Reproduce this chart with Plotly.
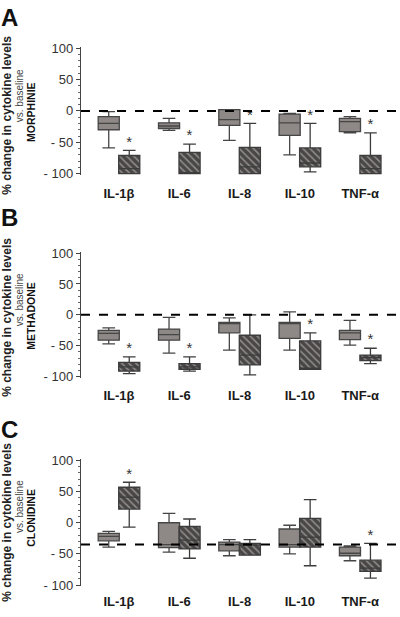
import plotly.graph_objects as go

# ---------------- data ----------------
cytokines = ["IL-1β", "IL-6", "IL-8", "IL-10", "TNF-α"]
drugs = ["MORPHINIE", "METHADONE", "CLONIDINE"]
panel_letters = ["A", "B", "C"]
dashed_ref = [0, 0, -35]

# Panel A (morphine) - grey boxes
A_grey_lo = [-59, -31, -47, -70, -35]
A_grey_q1 = [-30, -28, -23, -39, -33]
A_grey_med = [-20, -24, -14, -19, -17]
A_grey_q3 = [-9, -19, 2, -5, -12]
A_grey_hi = [-1, -12, 2, -4, -9]
# Panel A - hatched boxes
A_hatch_lo = [-100, -100, -100, -97, -100]
A_hatch_q1 = [-100, -100, -100, -89, -100]
A_hatch_med = [-92, -100, -89, -83, -92]
A_hatch_q3 = [-71, -66, -58, -59, -71]
A_hatch_hi = [-63, -53, -20, -20, -35]
A_star = [1, 1, 1, 1, 1]

# Panel B (methadone)
B_grey_lo = [-47, -62, -57, -57, -49]
B_grey_q1 = [-41, -41, -29, -38, -40]
B_grey_med = [-30, -32, -14, -14, -29]
B_grey_q3 = [-25, -23, -12, -12, -25]
B_grey_hi = [-21, -4, -5, 5, -9]
B_hatch_lo = [-95, -91, -97, -88, -79]
B_hatch_q1 = [-91, -88, -81, -88, -74]
B_hatch_med = [-84, -84, -65, -88, -69]
B_hatch_q3 = [-77, -79, -33, -42, -65]
B_hatch_hi = [-68, -68, 0, -29, -54]
B_star = [1, 1, 0, 1, 1]

# Panel C (clonidine)
C_grey_lo = [-39, -47, -53, -50, -61]
C_grey_q1 = [-29, -40, -45, -39, -53]
C_grey_med = [-22, -35, -35, -35, -49]
C_grey_q3 = [-17, 0, -31, -10, -39]
C_grey_hi = [-14, 15, -27, -4, -37]
C_hatch_lo = [-7, -57, -52, -69, -89]
C_hatch_q1 = [22, -42, -52, -39, -78]
C_hatch_med = [41, -28, -36, -23, -73]
C_hatch_q3 = [57, -6, -33, 7, -60]
C_hatch_hi = [65, 6, -27, 37, -33]
C_star = [1, 0, 0, 0, 1]

y_tickvals = [-100, -50, 0, 50, 100]
y_ticktext = ["- 100", "- 50", "0", "50", "100"]

# ---------------- layout helpers ----------------
W, H = 400, 617
FONT = "Liberation Sans, Arial, sans-serif"
def py(p):
    return 1 - p / H

panels = [
    dict(grey=(A_grey_lo, A_grey_q1, A_grey_med, A_grey_q3, A_grey_hi),
         hatch=(A_hatch_lo, A_hatch_q1, A_hatch_med, A_hatch_q3, A_hatch_hi),
         star=A_star, top=41.7, bot=172.3, tlen=6),
    dict(grey=(B_grey_lo, B_grey_q1, B_grey_med, B_grey_q3, B_grey_hi),
         hatch=(B_hatch_lo, B_hatch_q1, B_hatch_med, B_hatch_q3, B_hatch_hi),
         star=B_star, top=250.7, bot=379.3, tlen=5),
    dict(grey=(C_grey_lo, C_grey_q1, C_grey_med, C_grey_q3, C_grey_hi),
         hatch=(C_hatch_lo, C_hatch_q1, C_hatch_med, C_hatch_q3, C_hatch_hi),
         star=C_star, top=462.2, bot=591.8, tlen=3),
]
# y-title line centres (px) per panel
title_y = [(112, 92, 108), (318, 300, 316), (527, 511, 522)]
letter_y = [12, 216, 432]

OFF = 0.17
BW = 0.35
GREY = "#8e8886"
HATCH_BG = "#4a4646"

fig = go.Figure()
layout = dict(width=W, height=H, margin=dict(l=0, r=0, t=0, b=0),
              paper_bgcolor="white", plot_bgcolor="white",
              showlegend=False, barmode="overlay", boxmode="overlay",
              font=dict(family=FONT, color="#222"))
shapes, annotations = [], []

for k, p in enumerate(panels):
    sfx = "" if k == 0 else str(k + 1)
    xa, ya = "x" + sfx, "y" + sfx
    xs = list(range(len(cytokines)))
    xg = [i - OFF for i in xs]
    xh = [i + OFF for i in xs]
    glo, gq1, gmed, gq3, ghi = p["grey"]
    hlo, hq1, hmed, hq3, hhi = p["hatch"]

    # hatched body (bar with pattern)
    fig.add_trace(go.Bar(
        x=xh, base=hq1, y=[b - a for a, b in zip(hq1, hq3)], width=BW,
        marker=dict(color=HATCH_BG, line=dict(width=0),
                    pattern=dict(shape="\\", fgcolor="#d4d4d4", bgcolor=HATCH_BG,
                                 size=5, solidity=0.3)),
        xaxis=xa, yaxis=ya, hoverinfo="skip"))
    # grey box
    fig.add_trace(go.Box(
        x=xg, q1=gq1, median=gmed, q3=gq3, lowerfence=glo, upperfence=ghi,
        width=BW, fillcolor=GREY, line=dict(color="#464646", width=1.3),
        whiskerwidth=0.6, boxpoints=False, xaxis=xa, yaxis=ya))
    # hatched box outline / whiskers
    fig.add_trace(go.Box(
        x=xh, q1=hq1, median=hmed, q3=hq3, lowerfence=hlo, upperfence=hhi,
        width=BW, fillcolor="rgba(0,0,0,0)", line=dict(color="#3c3c3c", width=1.3),
        whiskerwidth=0.6, boxpoints=False, xaxis=xa, yaxis=ya))
    # significance stars
    sx = [x for x, s in zip(xh, p["star"]) if s]
    sy = [y for y, s in zip(hhi, p["star"]) if s]
    fig.add_trace(go.Scatter(
        x=sx, y=sy, mode="text", text=["*"] * len(sx), textposition="top center",
        textfont=dict(size=15, color="#333", family=FONT),
        xaxis=xa, yaxis=ya, hoverinfo="skip"))

    layout["xaxis" + sfx] = dict(
        domain=[81 / W, 1], range=[-0.63, 4.66], anchor=ya,
        tickvals=xs, ticktext=cytokines, showline=False, showgrid=False,
        zeroline=False, ticks="outside", ticklen=p["tlen"], tickcolor="rgba(0,0,0,0)",
        tickfont=dict(size=13, family=FONT, color="#1a1a1a", weight="bold"),
        fixedrange=True)
    layout["yaxis" + sfx] = dict(
        domain=[py(p["bot"]), py(p["top"])], range=[-102, 102], anchor=xa,
        tickvals=y_tickvals, ticktext=y_ticktext, showline=True,
        linecolor="#444", linewidth=1.3, ticks="outside", ticklen=4,
        tickcolor="#444", tickwidth=1, showgrid=False, zeroline=False,
        minor=dict(dtick=10, ticks="outside", ticklen=2, tickcolor="#666"),
        tickfont=dict(size=13, family=FONT, color="#333"), fixedrange=True)

    shapes.append(dict(type="line", xref=xa + " domain", x0=0, x1=1,
                       yref=ya, y0=dashed_ref[k], y1=dashed_ref[k],
                       line=dict(color="black", width=2, dash="dash"), layer="above"))

    ty = title_y[k]
    annotations += [
        dict(text="% change in cytokine levels", x=7 / W, y=py(ty[0]), xref="paper", yref="paper",
             textangle=-90, showarrow=False, xanchor="center", yanchor="middle",
             font=dict(size=12, family=FONT, color="#222", weight="bold")),
        dict(text="vs. baseline", x=19 / W, y=py(ty[1]), xref="paper", yref="paper",
             textangle=-90, showarrow=False, xanchor="center", yanchor="middle",
             font=dict(size=10, family=FONT, color="#444")),
        dict(text=drugs[k], x=31 / W, y=py(ty[2]), xref="paper", yref="paper",
             textangle=-90, showarrow=False, xanchor="center", yanchor="middle",
             font=dict(size=10.5, family=FONT, color="#111", weight="bold")),
        dict(text=panel_letters[k], x=9 / W, y=py(letter_y[k]), xref="paper", yref="paper",
             showarrow=False, xanchor="center", yanchor="middle",
             font=dict(size=24, family=FONT, color="#111", weight="bold")),
    ]

layout["shapes"] = shapes
layout["annotations"] = annotations
fig.update_layout(**layout)
fig.write_html("out.html", config={"displayModeBar": False},
               post_script="document.body.style.margin='0';document.body.style.overflow='hidden';")
